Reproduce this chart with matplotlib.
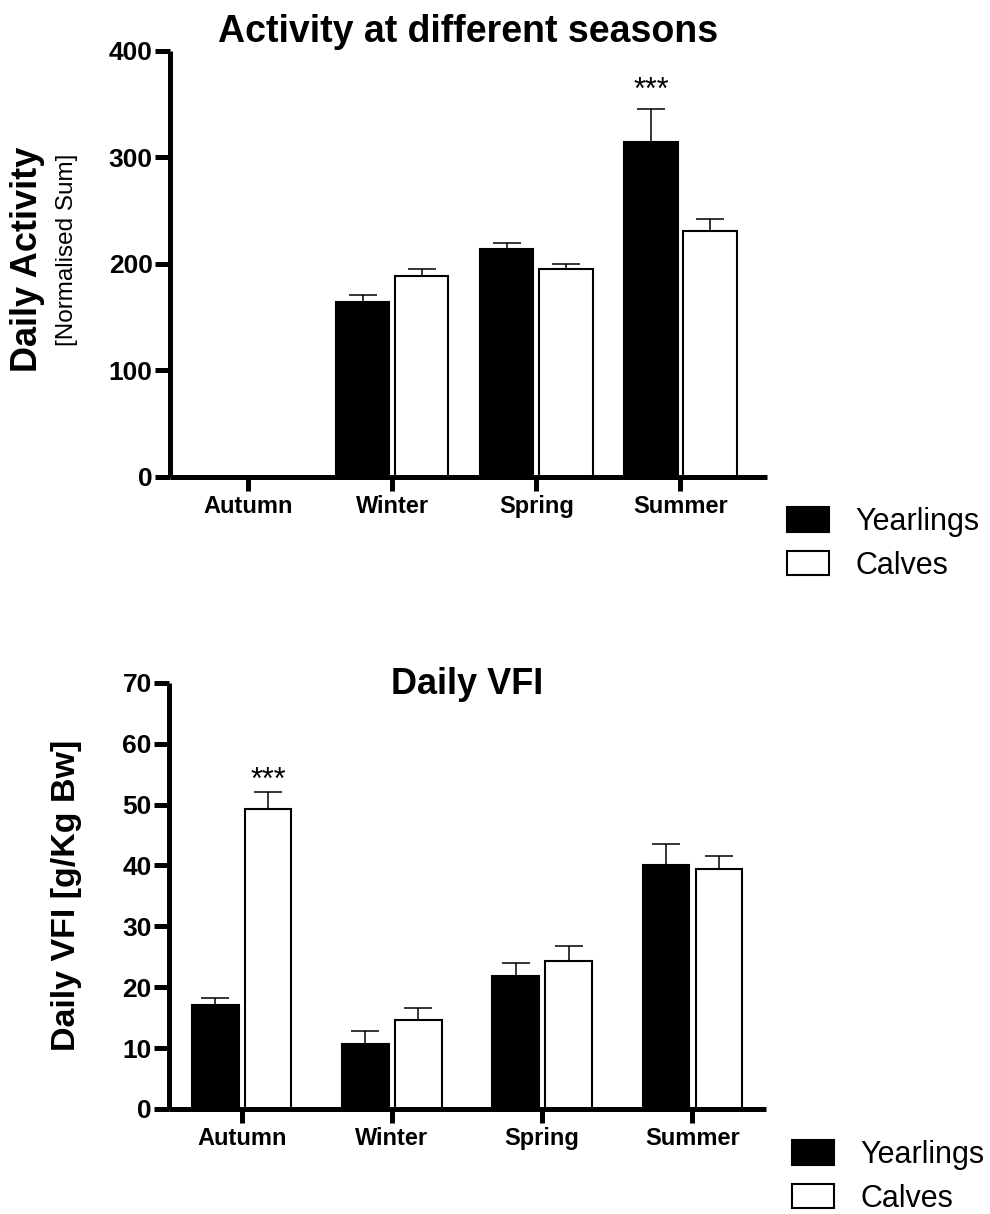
import matplotlib
matplotlib.use("Agg")
import matplotlib.pyplot as plt
import numpy as np
from matplotlib import font_manager

plt.rcParams['font.family'] = ['Liberation Sans', 'DejaVu Sans']

# narrow bold for the y tick numbers if we have it
names = set(f.name for f in font_manager.fontManager.ttflist)
narrow = 'Liberation Sans Narrow' if 'Liberation Sans Narrow' in names else 'Liberation Sans'

seasons = ['Autumn', 'Winter', 'Spring', 'Summer']

act_year = [np.nan, 164, 214, 314]
act_year_err = [0, 7, 5, 31]
act_calf = [np.nan, 188, 195, 231]
act_calf_err = [0, 7, 5, 11]

vfi_year = [17.0, 10.7, 21.8, 40.0]
vfi_year_err = [1.2, 2.1, 2.1, 3.5]
vfi_calf = [49.3, 14.6, 24.3, 39.4]
vfi_calf_err = [2.8, 2.0, 2.5, 2.1]

W, H = 990, 1214
fig = plt.figure(figsize=(W / 100, H / 100), dpi=100)

def px_axes(l, t, r, b):
    return fig.add_axes([l / W, 1 - b / H, (r - l) / W, (b - t) / H])

ax1 = px_axes(170, 50.7, 767, 476.7)
ax2 = px_axes(169, 682.7, 766, 1109)


def draw(ax, yv, ye, cv, ce, off, bw, ylim, yticks, xlim):
    x = np.arange(len(seasons))
    b1 = ax.bar(x - off, yv, bw, color='black', edgecolor='black', linewidth=1.5,
                label='Yearlings', zorder=2)
    b2 = ax.bar(x + off, cv, bw, color='white', edgecolor='black', linewidth=1.5,
                label='Calves', zorder=2)
    ax.errorbar(x - off, yv, yerr=[np.zeros(4), ye], fmt='none', ecolor='black',
                elinewidth=1.1, capsize=10, capthick=1.1, zorder=3)
    ax.errorbar(x + off, cv, yerr=[np.zeros(4), ce], fmt='none', ecolor='black',
                elinewidth=1.1, capsize=10, capthick=1.1, zorder=3)
    ax.set_xlim(*xlim)
    ax.set_ylim(*ylim)
    ax.set_yticks(yticks)
    ax.set_xticks(x)
    ax.set_xticklabels(seasons, fontsize=17, fontweight='bold')
    for lab in ax.get_yticklabels():
        lab.set_family(narrow)
        lab.set_fontweight('bold')
        lab.set_fontsize(19)
    for s in ['top', 'right']:
        ax.spines[s].set_visible(False)
    for s in ['left', 'bottom']:
        ax.spines[s].set_linewidth(3.6)
        ax.spines[s].set_capstyle('butt')
    ax.tick_params(axis='y', length=11, width=3.6, pad=1.5)
    ax.tick_params(axis='x', length=10, width=3.6, pad=3)
    return b1, b2


h1 = draw(ax1, act_year, act_year_err, act_calf, act_calf_err, 0.205, 0.37,
          (0, 400), [0, 100, 200, 300, 400], (-0.54, 3.6))
h2 = draw(ax2, vfi_year, vfi_year_err, vfi_calf, vfi_calf_err, 0.176, 0.31,
          (0, 70), np.arange(0, 71, 10), (-0.484, 3.49))

ax1.text(0.5, 1.02, 'Activity at different seasons', transform=ax1.transAxes,
         ha='center', va='baseline', fontsize=27, fontweight='bold')
ax2.text(0.5, 0.973, 'Daily VFI', transform=ax2.transAxes,
         ha='center', va='baseline', fontsize=26, fontweight='bold')

ax1.text(3 - 0.205, 362, '***', ha='center', va='center', fontsize=22)
ax2.text(0 + 0.176, 53.8, '***', ha='center', va='center', fontsize=22)

fig.text(28 / W, 1 - 259 / H, 'Daily Activity', rotation=90, ha='center',
         va='center', fontsize=26, fontweight='bold')
fig.text(67 / W, 1 - 250 / H, '[Normalised Sum]', rotation=90, ha='center',
         va='center', fontsize=17.5)
fig.text(67 / W, 1 - 895 / H, 'Daily VFI [g/Kg Bw]', rotation=90, ha='center',
         va='center', fontsize=24.5, fontweight='bold')

leg_kw = dict(loc='upper left', frameon=False, fontsize=22, borderpad=0,
              borderaxespad=0, handlelength=1.38, handleheight=0.85,
              handletextpad=0.85, labelspacing=0.45)
fig.legend(h1, ['Yearlings', 'Calves'], bbox_to_anchor=(787 / W, 1 - 507 / H), **leg_kw)
fig.legend(h2, ['Yearlings', 'Calves'], bbox_to_anchor=(792 / W, 1 - 1140 / H), **leg_kw)

fig.savefig('out.png', dpi=100)
